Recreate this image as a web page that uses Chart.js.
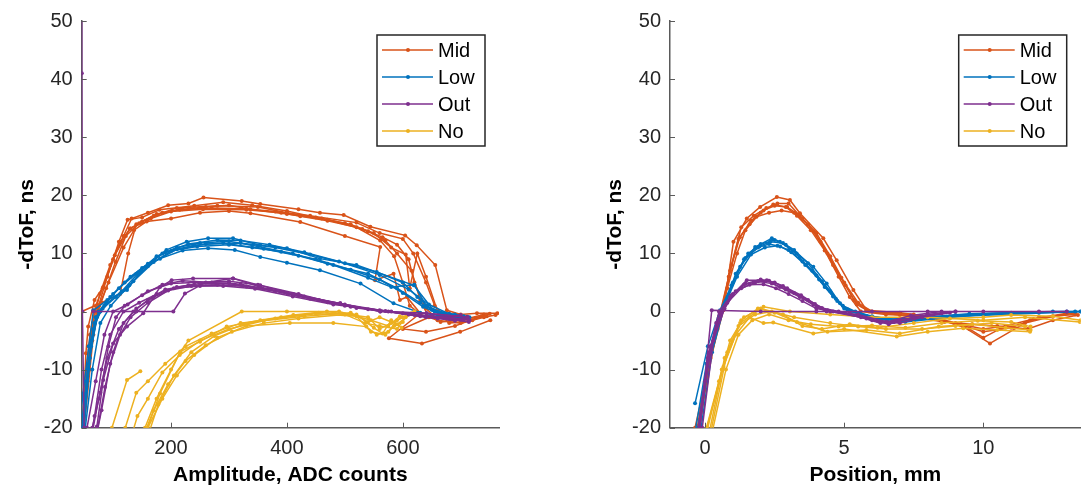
<!DOCTYPE html>
<html>
<head>
<meta charset="utf-8">
<script src="https://cdn.jsdelivr.net/npm/chart.js@4.4.1/dist/chart.umd.min.js"></script>
<style>
  body { margin: 0; background: #fff; }
  #wrap { position: relative; width: 1092px; height: 486px; }
  canvas { position: absolute; top: 0; }
  #amp { left: 0; }
  #pos { left: 546px; }
</style>
</head>
<body>
<div id="wrap">
  <canvas id="amp" width="546" height="486"></canvas>
  <canvas id="pos" width="546" height="486"></canvas>
</div>
<script>
  'use strict'

  const groups = ['Mid', 'Low', 'Out', 'No'];
  const groupColors = ['#D95319', '#0072BD', '#7E2F8E', '#EDB120'];

  const dtofTicks = [-20, -10, 0, 10, 20, 30, 40, 50];
  const ampTicks = [200, 400, 600];
  const posTicks = [0, 5, 10];

  // -dToF vs amplitude, one inner array per scan
  const ampMid = [
    [[44,-24],[52,-12],[60,-4],[70,1],[82,4],[100,9],[118,13],[132,16],[160,17],[195,18.3],[230,18.6],[256,19.6],[322,19],[354,18.5],[420,17.6],[457,17],[498,16.6],[544,14.6],[604,13.1],[624,11.4],[656,8],[676,0.2],[700,-0.5],[728,-0.3],[763,-0.3]],
    [[46,-20],[55,-9],[65,-2],[77,3],[95,8],[112,12],[130,14.3],[150,15.5],[185,17],[220,17.6],[260,18],[300,18.3],[337,17.6],[380,17.2],[423,16.4],[470,15.6],[520,14.5],[561,12.2],[585,9.5],[600,5],[612,1],[630,-0.5],[660,-1.5],[700,-2],[740,-1],[760,-0.6]],
    [[47,-20],[53,-7.2],[57,-2.6],[68,2],[83,4.2],[103,9.7],[129,14.3],[158,15.5],[200,16],[250,17],[300,17.3],[337,16.9],[423,15.4],[500,13],[561,11.1],[552,5.4],[584,6.5],[595,2],[607,2.5],[630,-0.3],[576,-4.6],[633,-5.5],[699,-3.5],[751,-1.5]],
    [[46,0],[80,1.5],[112,3],[126,10],[140,15],[170,16.5],[210,17.8],[280,18.2],[350,18],[400,17],[460,16],[510,15],[550,13.5],[580,11],[605,9.8],[612,4],[625,10],[640,6],[660,0],[680,-2],[720,-1.5],[750,-0.4]],
    [[49,-20],[58,-6],[72,0],[90,6],[110,12],[125,15.8],[150,16.2],[180,17.5],[240,18.2],[290,18.8],[340,18.3],[400,17.3],[450,16.2],[500,15.2],[540,13.8],[570,12.2],[590,10],[615,7],[630,2],[645,-1],[600,-3],[640,-3.5],[690,-2.5],[735,-0.8]],
    [[50,-20],[60,-10],[66,-4],[76,1],[92,5],[118,11],[136,14],[165,16],[200,17.2],[255,17.6],[330,17.5],[390,17],[440,16.5],[520,15.3],[560,13.5],[600,12.5],[618,10],[640,5],[655,1],[675,-1],[710,-1.2],[745,-0.8]],
    [[48,-22],[56,-12],[64,-5],[74,0],[88,4],[104,8.5],[122,13],[145,15.2],[175,16.8],[215,17.5],[270,17.8],[330,17.7],[400,16.8],[470,15.8],[530,14.2],[565,12.8],[590,11.5],[610,9],[620,5],[640,0.5],[665,-1.8],[700,-1.5],[740,-0.5]]
  ];
  const ampLow = [
    [[44,-18],[48,-14.1],[58,-6],[66,0.2],[90,2],[124,3.7],[149,7.1],[192,10.6],[227,12],[264,12.6],[307,12.6],[354,11.4],[400,10.9],[457,9.1],[520,8],[619,4.5],[653,0.2],[690,-0.5],[711,-0.9]],
    [[46,-20],[56,-10],[66,-3],[78,0],[100,3],[130,6],[160,8.2],[181,9.1],[220,10.5],[264,10.9],[310,10.6],[354,9.4],[400,8.4],[457,7.1],[527,4.8],[584,1.4],[630,-0.2],[670,-0.8],[700,-1]],
    [[47,-20],[60,-8],[72,-1],[88,1.5],[110,4],[140,6.5],[175,9.5],[210,11],[250,11.8],[300,12.1],[350,11.2],[410,10],[470,8.2],[540,6.5],[590,4],[630,1.5],[655,0],[690,-1.2]],
    [[50,-20],[62,-6],[75,0],[95,2.5],[120,5],[150,7.5],[190,10.2],[240,11.4],[290,11.8],[340,11],[390,10.3],[450,9],[510,7.2],[560,5.5],[600,3.2],[635,0.8],[665,-0.5],[700,-1.1]],
    [[52,-20],[64,-10],[78,-2],[96,1],[128,4.5],[160,7.8],[200,10.4],[245,11.2],[300,11.5],[360,10.8],[420,9.6],[480,8],[540,5.8],[580,4.2],[620,4.6],[640,1],[670,-0.3],[705,-0.8]],
    [[45,-20],[54,-12],[62,-5],[70,-1],[85,1],[115,3.5],[145,6.8],[185,10],[230,11.6],[280,12.3],[320,12.2],[370,11.5],[430,10.2],[490,8.6],[560,6.3],[610,3.8],[645,1.2],[680,-0.4],[715,-1]],
    [[48,-20],[58,-9],[68,-2],[82,0.5],[105,2.5],[135,5.2],[170,8.5],[210,10.7],[260,11.6],[320,11.8],[380,11],[440,9.8],[500,8.3],[555,6.8],[600,5],[625,2.5],[650,0.3],[685,-0.8]]
  ];
  const ampOut = [
    [[50,-20],[47,0],[46,41],[46,60]],
    [[66,0],[140,0],[204,0],[224,3.1],[260,5],[307,5.7],[354,4.5],[411,3],[492,1.4],[561,0],[641,-0.3],[711,-1]],
    [[60,-24],[72,-19.8],[83,-11.8],[100,-5.5],[124,-2.6],[152,-0.3],[181,4.2],[201,5.4],[238,5.7],[307,5.7],[354,4.2],[411,2.8],[492,1.4],[561,0],[641,-0.3],[711,-1]],
    [[62,-22],[75,-15],[90,-8],[110,-3],[135,0],[160,2],[190,3.8],[230,4.5],[280,4.6],[330,4.3],[380,3.5],[440,2.2],[510,0.8],[580,0],[650,-0.8],[705,-1.4]],
    [[58,-24],[68,-18],[80,-10],[95,-4],[118,0],[145,1.5],[175,3],[210,4.2],[250,4.8],[300,4.9],[350,4],[400,3.2],[470,1.6],[540,0.4],[610,-0.5],[680,-1],[715,-1.5]],
    [[64,-20],[78,-14],[92,-6],[105,-1],[120,1],[150,2.8],[185,4.6],[220,5.3],[270,5],[320,4.7],[390,3.4],[455,2],[520,0.6],[600,-0.3],[660,-1.2],[700,-0.6]],
    [[55,-20],[70,-12],[85,-4],[100,0],[125,1.2],[160,3.5],[200,4.8],[240,5],[300,5.2],[350,4.6],[420,3],[500,1],[570,0.1],[630,-0.8],[690,-1.6],[712,-1]],
    [[66,-24],[80,-17],[95,-9],[112,-4],[130,-1],[160,1.5],[195,3.6],[235,4.4],[290,4.4],[345,3.9],[410,2.6],[480,1.2],[560,0.2],[620,-0.6],[680,-1.3],[714,-1.8]],
    [[70,-22],[86,-13],[100,-7],[118,-2],[140,0.5],[170,2.5],[205,4],[250,4.4],[310,4.6],[370,3.8],[430,2.6],[500,1.2],[575,0],[640,-1],[700,-1.4]]
  ];
  const ampNo = [
    [[152,-22],[181,-14.1],[216,-6.9],[250,-5.2],[296,-2.6],[354,-1.5],[411,-0.6],[469,0],[540,-1],[560,-3],[580,-2],[600,-1],[620,0]],
    [[155,-20],[175,-15],[200,-10],[216,-7],[230,-5],[322,0],[400,0],[490,0],[545,-1.5],[575,-2.5],[595,-0.8]],
    [[160,-20],[185,-15],[210,-11],[240,-7.5],[280,-4.5],[330,-2.5],[405,-2],[480,-2],[537,-2.6],[555,-4],[575,-3.5],[590,-1.5],[610,-0.5]],
    [[98,-20],[124,-11.8],[147,-10.3]],
    [[110,-22],[121,-20],[140,-14],[160,-12],[190,-9],[225,-6],[270,-3.8],[320,-2],[380,-1.2],[450,-0.4],[520,-0.8],[545,-3.5],[570,-4],[585,-2.5],[600,-1.8]],
    [[150,-22],[170,-17],[195,-12.5],[225,-8.5],[260,-5.8],[305,-3.5],[360,-2],[420,-1.2],[500,-0.5],[535,-2],[560,-2.5],[590,-3],[605,-1]],
    [[158,-22],[178,-16],[205,-11],[235,-7],[275,-4.2],[325,-2.2],[390,-1],[455,-0.2],[520,-0.5],[550,-2.8],[565,-3.8],[580,-1.5],[598,-2.8]],
    [[130,-22],[142,-18],[160,-15],[185,-10.5],[215,-7.5],[250,-5],[300,-3],[360,-1.6],[430,-0.8],[510,-0.2],[540,-1.8],[560,-1],[590,-2.2],[615,-0.3]]
  ];

  // -dToF vs position, same scans
  const posMid = [
    [[-0.45,-24],[-0.36,-20],[0.2,-8],[0.66,0.2],[1.02,12],[1.5,16],[1.98,18],[2.58,19.7],[3.05,19.2],[3.41,16.9],[4.25,12.6],[4.73,8.8],[5.33,3.7],[5.81,0.2],[6.5,-0.3],[7.5,-0.5],[8.5,-1.5],[9.28,-2.6],[10.24,-5.5],[11.68,-1.5],[13.2,-0.3]],
    [[-0.3,-22],[0.1,-10],[0.5,-1],[0.85,6],[1.2,12.5],[1.6,15],[2,17],[2.45,18.4],[2.9,18],[3.3,16.5],[3.8,14],[4.3,10.5],[4.8,6],[5.2,2.5],[5.6,0],[6.5,-0.5],[8,-0.8],[9,-2],[10,-3.5],[11,-2.8],[12,-1],[13.3,-0.5]],
    [[-0.25,-22],[0.15,-9],[0.6,0],[0.95,8],[1.3,14.5],[1.75,16.5],[2.2,17.8],[2.6,18.6],[3,18.6],[3.5,16],[4,13.5],[4.5,9.5],[5,5],[5.5,1.5],[6,0],[7,-0.3],[8.2,-1],[9.5,-3],[10,-4.5],[10.6,-3],[11.5,-2],[12.5,-0.8],[13.3,-0.2]],
    [[-0.4,-24],[0.05,-12],[0.45,-3],[0.8,4],[1.15,10],[1.45,14],[1.85,16.3],[2.3,17],[2.75,17.4],[3.2,17],[3.7,15],[4.15,12],[4.6,8],[5.05,4.5],[5.45,1.2],[5.9,0],[7,-0.6],[8.6,-1.8],[9.6,-2.2],[10.5,-2.5],[11.6,-3],[12.5,-1.5],[13.4,-0.6]],
    [[-0.35,-22],[0.1,-9],[0.55,-0.5],[0.9,7],[1.25,12.8],[1.65,15.6],[2.1,17.4],[2.5,18.2],[2.95,18],[3.4,16.5],[3.9,13.8],[4.4,10],[4.9,5.8],[5.35,2],[5.8,0.2],[7,-0.2],[8,-0.8],[9.2,-2.2],[10,-3],[10.8,-2.5],[11.8,-1.3],[13,-0.3]]
  ];
  const posLow = [
    [[-0.36,-15.8],[0.1,-6],[0.54,0.2],[1.26,7.7],[1.8,11.1],[2.4,12.6],[2.69,12],[3.29,10],[3.89,7.7],[4.37,4.8],[4.85,1.4],[5.21,0],[6.77,-1.8],[8.68,-0.9],[13.6,0]],
    [[-0.3,-22],[0.15,-8],[0.6,0],[1,5],[1.4,9],[1.9,11],[2.3,11.6],[2.7,11.2],[3.1,10.2],[3.6,8],[4.1,5.5],[4.6,2.6],[5,0.5],[5.6,-0.5],[6.5,-1.2],[7.5,-1.5],[9,-0.6],[11,-0.2],[13.3,0]],
    [[-0.2,-22],[0.25,-7],[0.7,1],[1.1,6.5],[1.55,10],[2,11.6],[2.5,12.3],[2.9,11.5],[3.4,9.3],[3.85,7],[4.3,4.2],[4.75,1.8],[5.15,0.3],[6,-0.8],[7.2,-1.8],[8.2,-1.3],[10,-0.5],[12,-0.2],[13.5,0]],
    [[-0.25,-20],[0.2,-6],[0.65,0.5],[1.15,6],[1.65,9.8],[2.15,11],[2.6,11.3],[3,10.6],[3.5,8.6],[4,6.2],[4.5,3.5],[4.95,1],[5.4,0],[6.3,-1.4],[7.8,-1],[9.5,-0.4],[12.5,0],[13.5,0]],
    [[-0.4,-22],[0.05,-9],[0.5,-1],[0.95,4.5],[1.45,9.2],[1.95,11.2],[2.35,12],[2.8,11.8],[3.2,10.6],[3.7,8.3],[4.2,5.2],[4.7,2.2],[5.1,0.4],[5.8,-0.8],[6.9,-1.6],[8.2,-1],[10,-0.4],[13,0]]
  ];
  const posOut = [
    [[-0.18,-20.1],[0.24,0.2],[2,0],[4,0],[6,0],[8,0],[10,0],[12,0],[13,0]],
    [[-0.3,-22],[0.1,-8],[0.5,0],[0.9,2.5],[1.5,5.4],[2.22,5.4],[2.69,4.2],[3.41,2.5],[4.01,0.8],[4.37,0],[5.5,-0.5],[6.53,-1.8],[7.4,-0.7],[8.5,0]],
    [[-0.2,-20],[0.2,-6],[0.6,0],[1,3],[1.4,4.6],[1.9,5.2],[2.4,4.8],[2.9,3.8],[3.4,2.6],[3.9,1.2],[4.5,0],[5.6,-1],[6.3,-2],[7,-1.5],[8,-0.5],[9,0]],
    [[-0.1,-20],[0.3,-5],[0.7,0.5],[1.1,3.5],[1.6,4.6],[2.1,4.7],[2.55,4],[3,3],[3.5,1.8],[4,0.5],[4.6,0],[5.8,-1.2],[6.6,-2.2],[7.5,-1],[8.5,-0.3]],
    [[-0.35,-24],[0,-12],[0.4,-2],[0.8,1.5],[1.3,4],[1.8,5],[2.3,5.3],[2.8,4.4],[3.2,3.2],[3.7,2],[4.2,0.6],[4.8,0],[6,-1.5],[6.8,-1.8],[7.8,-0.8],[9,0]],
    [[-0.25,-22],[0.15,-7],[0.55,-0.5],[0.95,2.8],[1.45,4.8],[2,5.5],[2.5,5],[2.95,4],[3.45,2.8],[3.95,1.3],[4.4,0.2],[5.2,-0.3],[6.2,-1.6],[7,-2],[7.8,-1],[8.8,-0.2]]
  ];
  const posNo = [
    [[0.06,-20.1],[0.66,-9.5],[1.26,-2],[2.1,0.8],[3.05,0],[4.5,-0.5],[6,-1],[8,-1],[10,-1.5],[11.5,-1],[13.47,-1.8]],
    [[0,-22],[0.6,-10],[1.1,-4],[1.6,-1],[2.1,-2],[2.45,-1.9],[3.89,-3.8],[5,-3],[6.89,-4.3],[8,-3.5],[9.28,-2.9],[10.5,-3.2],[11.68,-3.5]],
    [[0.1,-22],[0.7,-8],[1.2,-2.5],[1.8,-0.5],[2.4,0],[3.2,-1],[4.5,-2],[5.5,-2.6],[6.5,-3],[7.8,-3],[9,-2.5],[10.3,-2],[11.5,-2.6]],
    [[0.05,-20],[0.5,-12],[0.9,-5],[1.4,-1],[2,0.5],[2.8,-0.5],[3.5,-2.5],[4.2,-3],[5.2,-2.2],[6.2,-2.8],[7.5,-2],[8.8,-1.2],[10,-1],[11,-0.6],[12.5,-0.8],[13.5,-1.5]],
    [[0.15,-22],[0.8,-7],[1.3,-1.5],[1.9,0.5],[2.5,-0.2],[3.3,-1.8],[4.4,-3.5],[5.8,-3.2],[7,-3.8],[8.4,-2.6],[9.6,-2.2],[10.8,-2.8],[11.7,-3.2]],
    [[0.2,-22],[0.75,-10],[1.2,-4],[1.7,-1.5],[2.3,-0.5],[3,-1.5],[3.8,-2.2],[4.8,-2.6],[6,-2.4],[7.2,-2.8],[8.5,-2],[9.8,-1.6],[11,-1.8],[11.7,-2.6]]
  ];

  const fontFamily = '"Liberation Sans", Arial, Helvetica, sans-serif';
  const axisColor = '#5a5a5a';
  const textColor = '#262626';
  // drawing order: Out on top, then No, Low, Mid underneath
  const drawOrder = [3, 2, 0, 1];

  function buildSets(traceGroups) {
    const sets = [];
    traceGroups.forEach((traces, g) => {
      traces.forEach(trace => {
        sets.push({
          label: groups[g],
          data: trace.map(([x, y]) => ({ x, y })),
          showLine: true,
          borderColor: groupColors[g],
          backgroundColor: groupColors[g],
          borderWidth: 1.5,
          pointRadius: 2,
          pointBorderWidth: 0,
          order: drawOrder[g]
        });
      });
    });
    return sets;
  }

  // MATLAB-style ticks pointing into the plot
  const inwardTicks = {
    id: 'inwardTicks',
    afterDraw(chart) {
      const { ctx, chartArea, scales: { x, y } } = chart;
      ctx.save();
      ctx.strokeStyle = axisColor;
      ctx.lineWidth = 1;
      ctx.beginPath();
      x.ticks.forEach(t => {
        const px = Math.round(x.getPixelForValue(t.value)) + 0.5;
        ctx.moveTo(px, chartArea.bottom);
        ctx.lineTo(px, chartArea.bottom - 5);
      });
      y.ticks.forEach(t => {
        const py = Math.round(y.getPixelForValue(t.value)) + 0.5;
        ctx.moveTo(chartArea.left, py);
        ctx.lineTo(chartArea.left + 5, py);
      });
      ctx.stroke();
      ctx.restore();
    }
  };

  // boxed legend, one line-and-dot sample per group
  const boxLegend = {
    id: 'boxLegend',
    afterDraw(chart) {
      const { ctx, chartArea } = chart;
      const w = 108, h = 111;
      const left = chartArea.right - 14 - w;
      const top = chartArea.top + 14;
      ctx.save();
      ctx.fillStyle = '#fff';
      ctx.fillRect(left, top, w, h);
      ctx.strokeStyle = '#262626';
      ctx.lineWidth = 1.5;
      ctx.strokeRect(left, top, w, h);
      ctx.font = '20px ' + fontFamily;
      ctx.textBaseline = 'middle';
      groups.forEach((name, i) => {
        const cy = top + 15 + i * 27;
        ctx.strokeStyle = groupColors[i];
        ctx.lineWidth = 1.5;
        ctx.beginPath();
        ctx.moveTo(left + 5, cy);
        ctx.lineTo(left + 56, cy);
        ctx.stroke();
        ctx.fillStyle = groupColors[i];
        ctx.beginPath();
        ctx.arc(left + 31, cy, 2, 0, Math.PI * 2);
        ctx.fill();
        ctx.fillStyle = '#000';
        ctx.fillText(name, left + 61, cy + 1);
      });
      ctx.restore();
    }
  };

  function makeChart(id, traceGroups, xMin, xMax, xTicks, xTitle, yWidth, yTitlePad, padRight) {
    const ctx = document.getElementById(id).getContext('2d');
    return new Chart(ctx, {
      type: 'scatter',
      data: { datasets: buildSets(traceGroups) },
      options: {
        responsive: false,
        animation: false,
        layout: { padding: { left: 0, right: padRight, top: 20.7, bottom: 0 } },
        plugins: {
          legend: { display: false },
          tooltip: { enabled: false }
        },
        scales: {
          x: {
            type: 'linear',
            min: xMin,
            max: xMax,
            afterBuildTicks: s => { s.ticks = xTicks.map(v => ({ value: v })); },
            afterFit: s => { s.height = 58.3; },
            grid: { display: false, drawTicks: false },
            border: { display: true, color: axisColor, width: 1.5 },
            ticks: { color: textColor, padding: 9, font: { family: fontFamily, size: 20 } },
            title: {
              display: true,
              text: xTitle,
              color: '#000',
              padding: { top: 0, bottom: 0.5 },
              font: { family: fontFamily, size: 21, weight: 'bold', lineHeight: 1 }
            }
          },
          y: {
            type: 'linear',
            min: -20,
            max: 50,
            afterBuildTicks: s => { s.ticks = dtofTicks.map(v => ({ value: v })); },
            afterFit: s => { s.width = yWidth; },
            grid: { display: false, drawTicks: false },
            border: { display: true, color: axisColor, width: 1.5 },
            ticks: { color: textColor, padding: 9, font: { family: fontFamily, size: 20 } },
            title: {
              display: true,
              text: '-dToF, ns',
              color: '#000',
              padding: { top: yTitlePad, bottom: 0 },
              font: { family: fontFamily, size: 21, weight: 'bold', lineHeight: 1 }
            }
          }
        }
      },
      plugins: [inwardTicks, boxLegend]
    });
  }

  makeChart('amp', [ampMid, ampLow, ampOut, ampNo], 45.8, 766, ampTicks, 'Amplitude, ADC counts', 81.7, 16.5, 47);
  makeChart('pos', [posMid, posLow, posOut, posNo], -1.26, 13.5, posTicks, 'Position, mm', 124, 58.5, 11.3);
</script>
</body>
</html>
